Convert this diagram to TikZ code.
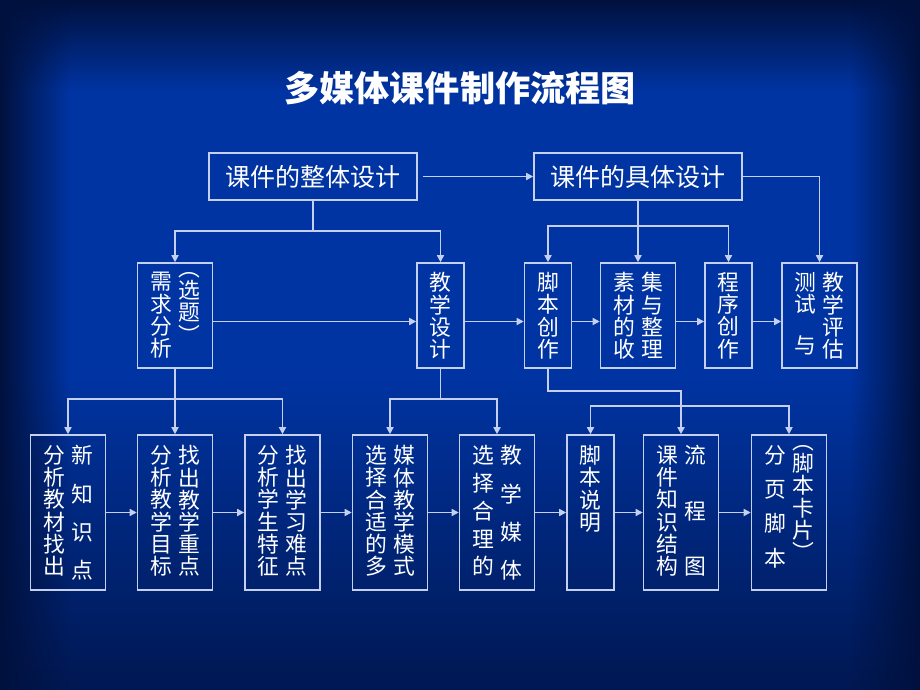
\documentclass[tikz,border=0pt]{standalone}
\usepackage{fontspec}
\newfontfamily\cjk{Noto Sans CJK SC}
\usetikzlibrary{arrows.meta, positioning, fadings}

\definecolor{bgmid}{HTML}{0034A2}
\definecolor{bgdark}{HTML}{00113E}
\definecolor{linec}{HTML}{C4D0EE}

\tikzset{
  box/.style={draw=linec, line width=1.1pt, inner sep=0pt},
  widebox/.style={box, minimum width=1.875cm},
  narrowbox/.style={box, minimum width=1.175cm},
  midrow/.style={minimum height=2.625cm},
  lowrow/.style={minimum height=3.875cm},
  topbox/.style={box, minimum width=5.2cm, minimum height=1.175cm, text=white,
    font=\cjk\fontsize{17.8}{18}\selectfont},
  coltext/.style={text=white, font=\cjk\fontsize{15.5}{15.8}\selectfont,
    align=center, inner sep=0pt, anchor=north},
  conn/.style={draw=linec, line width=1.1pt},
  arr/.style={conn, -{Triangle[length=5pt,width=5pt]}}
}

\begin{document}
\begin{tikzpicture}[x=0.025cm, y=-0.025cm]
        \useasboundingbox (0,0) rectangle (920,690);
        % Background
        \fill[bgmid] (0,0) rectangle (920,690);
        \fill[bgdark, path fading=south] (0,0) rectangle (920,90);
        \fill[bgdark, path fading=north, opacity=0.8] (0,380) rectangle (920,690);
        \fill[bgdark, path fading=east] (0,0) rectangle (70,690);
        \fill[bgdark, path fading=west] (850,0) rectangle (920,690);

        % Title
        \node[text=white, font=\cjk\bfseries\fontsize{25}{25}\selectfont] (title) at (460,88) {多媒体课件制作流程图};

        % Top boxes
        \node[topbox] (ztsj) at (313,176.5) {课件的整体设计};
        \node[topbox] (jtsj) at (638,176.5) {课件的具体设计};

        % Middle row
        \node[widebox, midrow] (xqfx) at (175,315.5) {};
        \node[narrowbox, midrow] (jxsj) at (440.5,315.5) {};
        \node[narrowbox, midrow] (jbcz) at (548,315.5) {};
        \node[widebox, midrow] (scsj) at (638,315.5) {};
        \node[narrowbox, midrow] (cxcz) at (728.5,315.5) {};
        \node[widebox, midrow] (csjp) at (819.5,315.5) {};

        \node[coltext, below=0.25cm of xqfx.north, xshift=-0.35cm] (xqfxa) {需\\求\\分\\析};
        \node[coltext, below=0.25cm of xqfx.north, xshift=0.35cm] (xqfxb) {︵\\选\\题\\︶};
        \node[coltext, below=0.25cm of jxsj.north] (jxsja) {教\\学\\设\\计};
        \node[coltext, below=0.25cm of jbcz.north] (jbcza) {脚\\本\\创\\作};
        \node[coltext, below=0.25cm of scsj.north, xshift=-0.35cm] (scsja) {素\\材\\的\\收};
        \node[coltext, below=0.25cm of scsj.north, xshift=0.35cm] (scsjb) {集\\与\\整\\理};
        \node[coltext, below=0.25cm of cxcz.north] (cxcza) {程\\序\\创\\作};
        \node[coltext, below=0.25cm of csjp.north, xshift=-0.35cm] (csjpa) {测\\试\\[0.45cm]与};
        \node[coltext, below=0.25cm of csjp.north, xshift=0.35cm] (csjpb) {教\\学\\评\\估};

        % Bottom row
        \node[widebox, lowrow] (fxjc) at (68,512.5) {};
        \node[widebox, lowrow] (fxmb) at (175,512.5) {};
        \node[widebox, lowrow] (fxxs) at (282.5,512.5) {};
        \node[widebox, lowrow] (xzms) at (390,512.5) {};
        \node[widebox, lowrow] (xzmt) at (497,512.5) {};
        \node[narrowbox, lowrow] (jbsm) at (590.5,512.5) {};
        \node[widebox, lowrow] (kjjg) at (681,512.5) {};
        \node[widebox, lowrow] (fyjb) at (789,512.5) {};

        \node[coltext, below=0.275cm of fxjc.north, xshift=-0.35cm] (fxjca) {分\\析\\教\\材\\找\\出};
        \node[coltext, below=0.275cm of fxjc.north, xshift=0.35cm] (fxjcb) {新\\[0.4cm]知\\[0.4cm]识\\[0.4cm]点};
        \node[coltext, below=0.275cm of fxmb.north, xshift=-0.35cm] (fxmba) {分\\析\\教\\学\\目\\标};
        \node[coltext, below=0.275cm of fxmb.north, xshift=0.35cm] (fxmbb) {找\\出\\教\\学\\重\\点};
        \node[coltext, below=0.275cm of fxxs.north, xshift=-0.35cm] (fxxsa) {分\\析\\学\\生\\特\\征};
        \node[coltext, below=0.275cm of fxxs.north, xshift=0.35cm] (fxxsb) {找\\出\\学\\习\\难\\点};
        \node[coltext, below=0.275cm of xzms.north, xshift=-0.35cm] (xzmsa) {选\\择\\合\\适\\的\\多};
        \node[coltext, below=0.275cm of xzms.north, xshift=0.35cm] (xzmsb) {媒\\体\\教\\学\\模\\式};
        \node[coltext, below=0.275cm of xzmt.north, xshift=-0.35cm] (xzmta) {选\\[0.14cm]择\\[0.14cm]合\\[0.14cm]理\\[0.14cm]的};
        \node[coltext, below=0.275cm of xzmt.north, xshift=0.35cm] (xzmtb) {教\\[0.4cm]学\\[0.4cm]媒\\[0.4cm]体};
        \node[coltext, below=0.275cm of jbsm.north] (jbsma) {脚\\本\\说\\明};
        \node[coltext, below=0.275cm of kjjg.north, xshift=-0.35cm] (kjjga) {课\\件\\知\\识\\结\\构};
        \node[coltext, below=0.275cm of kjjg.north, xshift=0.35cm] (kjjgb) {流\\[0.83cm]程\\[0.83cm]图};
        \node[coltext, below=0.275cm of fyjb.north, xshift=-0.35cm] (fyjba) {分\\[0.3cm]页\\[0.3cm]脚\\[0.3cm]本};
        \node[coltext, below=0.275cm of fyjb.north, xshift=0.35cm] (fyjbb) {︵\\脚\\本\\卡\\片\\︶};

        % Top connectors
        \draw[arr, shorten <=0.12cm] (ztsj) -- (jtsj);
        \draw[conn] (ztsj.south) -- ++(0,30) coordinate (ztsjd);
        \draw[arr] (ztsjd) -| (xqfx.north);
        \draw[arr] (ztsjd) -| (jxsj.north);
        \draw[arr] (jtsj.south) -- (scsj.north);
        \coordinate (jtsjd) at (638,226);
        \draw[arr] (jtsjd) -| (jbcz.north);
        \draw[arr] (jtsjd) -| (cxcz.north);
        \draw[arr] (jtsj.east) -| (csjp.north);

        % Middle row arrows
        \foreach \a/\b in {xqfx/jxsj, jxsj/jbcz, jbcz/scsj, scsj/cxcz, cxcz/csjp}
            \draw[arr] ([yshift=-0.15cm]\a.east) -- ([yshift=-0.15cm]\b.west);

        % Down to bottom row
        \draw[conn] (xqfx.south) -- ++(0,30) coordinate (xqfxd);
        \foreach \b in {fxjc, fxmb, fxxs}
            \draw[arr] (xqfxd) -| (\b.north);
        \draw[conn] (jxsj.south) -- ++(0,30) coordinate (jxsjd);
        \foreach \b in {xzms, xzmt}
            \draw[arr] (jxsjd) -| (\b.north);
        \draw[arr] (jbcz.south) -- ++(0,22) -| (kjjg.north);
        \coordinate (jbsmd) at (681,406);
        \draw[arr] (jbsmd) -| (jbsm.north);
        \draw[arr] (jbsmd) -| (fyjb.north);

        % Bottom row arrows
        \foreach \a/\b in {fxjc/fxmb, fxmb/fxxs, fxxs/xzms, xzms/xzmt, xzmt/jbsm, jbsm/kjjg, kjjg/fyjb}
            \draw[arr] (\a) -- (\b);
    \end{tikzpicture}
\end{document}
